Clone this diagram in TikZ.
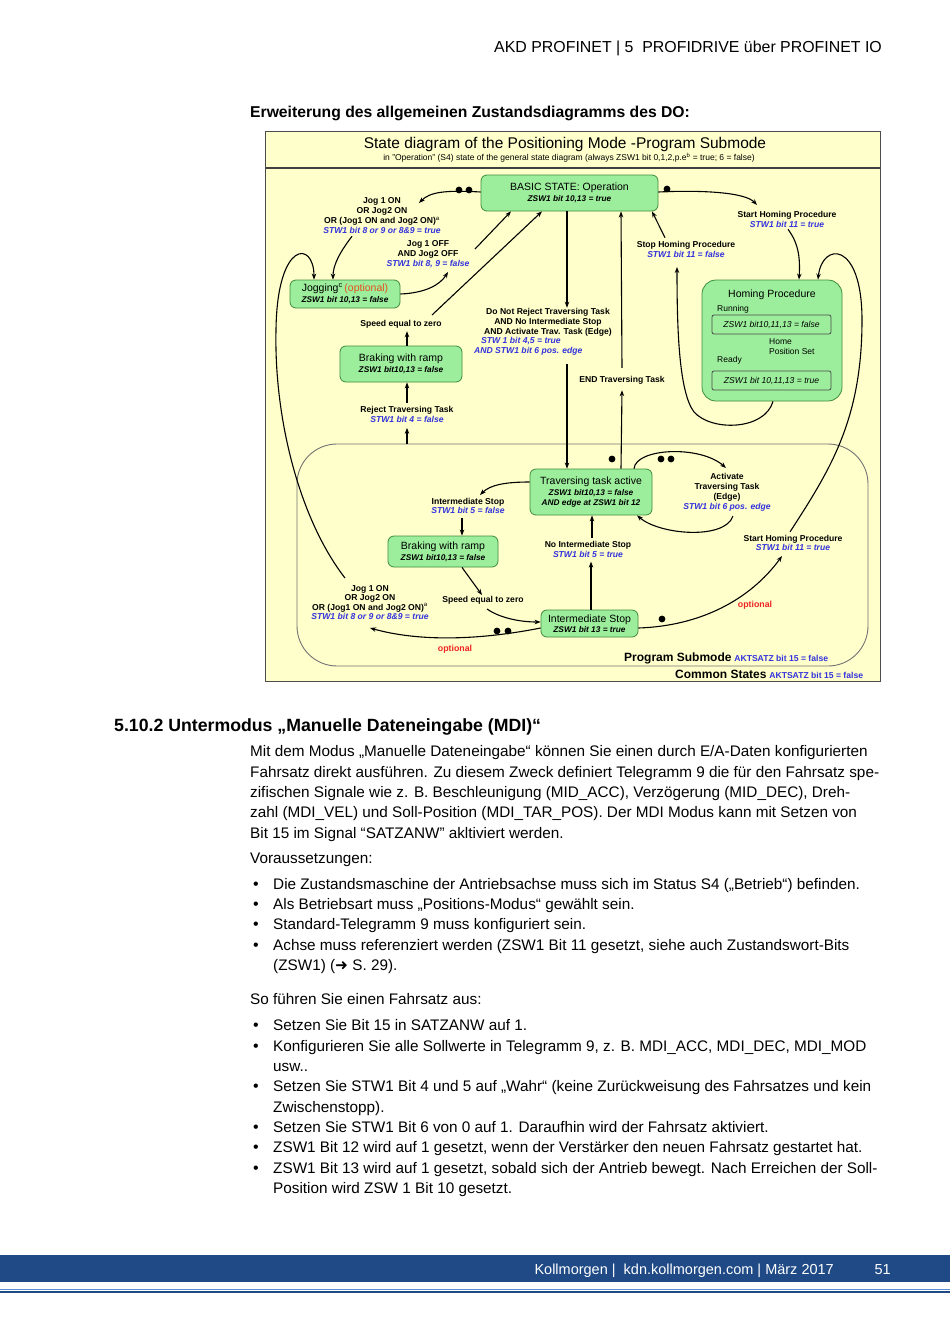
\documentclass[tikz,border=0pt]{standalone}
\usepackage{fontspec}
\setmainfont{Liberation Sans}
\newfontfamily\dejavu{DejaVu Sans}
\usetikzlibrary{arrows.meta,calc}
\definecolor{bgy}{HTML}{FFFFCC}
\definecolor{sgreen}{HTML}{9CEE9C}
\definecolor{sborder}{HTML}{3C8C3C}
\definecolor{lblue}{HTML}{3333DD}
\definecolor{optred}{HTML}{EE2222}
\definecolor{optorange}{HTML}{E8501E}
\definecolor{footblue}{HTML}{1F4A86}
\definecolor{footlight}{HTML}{5B8FD0}
\newcommand{\bl}[1]{{\color{lblue}\itshape #1}}
\begin{document}
\begin{tikzpicture}[x=1pt,y=-1pt,
  state/.style={draw=sborder,fill=sgreen,rounded corners=6pt,line width=0.8pt,align=center,inner sep=0pt},
  lbl/.style={font=\fontsize{8.6}{10}\selectfont\bfseries,align=center,inner sep=0pt},
  lbls/.style={font=\fontsize{8.6}{9.5}\selectfont\bfseries,align=center,inner sep=0pt},
  arr/.style={-{Stealth[length=6pt,width=4.5pt]},line width=1.1pt},
  body/.style={anchor=base west,inner sep=0pt,font=\fontsize{15.3}{18}\selectfont},
  bul/.style={anchor=base west,inner sep=0pt,font=\fontsize{16}{18}\selectfont},
  dot/.style={fill=black}]
\useasboundingbox (0,0) rectangle (950,1344);
\fill[white] (0,0) rectangle (950,1344);

% header
\node[anchor=base east,inner sep=0pt,font=\fontsize{15.9}{18}\selectfont] (hdr) at (882,52) {AKD PROFINET | 5\ \ PROFIDRIVE über PROFINET IO};
\node[anchor=base west,inner sep=0pt,font=\fontsize{15.7}{18}\selectfont\bfseries] (cap) at (250,117) {Erweiterung des allgemeinen Zustandsdiagramms des DO:};

% diagram frame
\fill[bgy] (265,131) rectangle (880,681);
\draw[line width=1.6pt,black!75] (265,168) -- (880,168);
\draw[line width=1pt,black!70] (265,131) rectangle (880,681);
\node[inner sep=0pt,font=\fontsize{15.5}{17}\selectfont] (title) at (565,144) {State diagram of the Positioning Mode -Program Submode};
\node[inner sep=0pt,font=\fontsize{8.5}{9}\selectfont] (subtitle) at (569,158) {in "Operation" (S4) state of the general state diagram (always ZSW1 bit 0,1,2,p.e$^{\mathrm b}$ = true; 6 = false)};

% program submode frame
\draw[black!55,line width=0.9pt,rounded corners=40pt] (297,444) rectangle (868,666);

% states
\node[state,minimum width=177pt,minimum height=36pt] (basic) at (569.5,193)
  {{\fontsize{10.5}{12}\selectfont BASIC STATE: Operation}\\[-1pt]{\fontsize{8.3}{9}\selectfont\bfseries\itshape ZSW1 bit 10,13 = true}};
\node[state,minimum width=110pt,minimum height=28pt] (jog) at (345,294)
  {{\fontsize{10.5}{12}\selectfont Jogging$^{\mathrm c}$\,{\color{optorange}(optional)}}\\[-1pt]{\fontsize{8.3}{9}\selectfont\bfseries\itshape ZSW1 bit 10,13 = false}};
\node[state,minimum width=122pt,minimum height=36pt] (brake1) at (401,364)
  {{\fontsize{10.5}{12}\selectfont Braking with ramp}\\[-1pt]{\fontsize{8.3}{9}\selectfont\bfseries\itshape ZSW1 bit10,13 = false}};
\node[state,rounded corners=14pt,minimum width=140pt,minimum height=121pt] (homing) at (772,340.5) {};
\node[inner sep=0pt,font=\fontsize{10.5}{12}\selectfont] (homt) at (772,294.5) {Homing Procedure};
\node[anchor=west,inner sep=0pt,font=\fontsize{8.5}{9}\selectfont] (running) at (717,309.5) {Running};
\node[draw=black!70,fill=sgreen,rounded corners=2pt,line width=0.8pt,minimum width=119pt,minimum height=19pt,inner sep=0pt,font=\fontsize{8.6}{9}\selectfont\itshape] (hrun) at (771.5,324.5) {ZSW1 bit10,11,13 = false};
\node[anchor=west,inner sep=0pt,font=\fontsize{8.5}{9}\selectfont] (ready) at (717,360.5) {Ready};
\node[anchor=west,inner sep=0pt,font=\fontsize{8.5}{9.8}\selectfont,align=left] (hps) at (769,347) {Home\\Position Set};
\node[draw=black!70,fill=sgreen,rounded corners=2pt,line width=0.8pt,minimum width=119pt,minimum height=19pt,inner sep=0pt,font=\fontsize{8.6}{9}\selectfont\itshape] (hready) at (771.5,380.5) {ZSW1 bit 10,11,13 = true};
\node[state,minimum width=122pt,minimum height=46pt] (trav) at (591,492)
  {{\fontsize{10.5}{12}\selectfont Traversing task active}\\[-1pt]{\fontsize{8.3}{10}\selectfont\bfseries\itshape ZSW1 bit10,13 = false}\\[-1.5pt]{\fontsize{8.3}{10}\selectfont\bfseries\itshape AND edge at ZSW1 bit 12}};
\node[state,minimum width=110pt,minimum height=31pt] (brake2) at (443,551.5)
  {{\fontsize{10.5}{12}\selectfont Braking with ramp}\\[-1pt]{\fontsize{8.3}{9}\selectfont\bfseries\itshape ZSW1 bit10,13 = false}};
\node[state,minimum width=97pt,minimum height=27pt] (inter) at (589.5,623.5)
  {{\fontsize{10.5}{12}\selectfont Intermediate Stop}\\[-2pt]{\fontsize{8.3}{9}\selectfont\bfseries\itshape ZSW1 bit 13 = true}};

% labels
\node[lbl] (jogA) at (382,216) {Jog 1 ON\\OR Jog2 ON\\OR (Jog1 ON and Jog2 ON)$^{\mathrm a}$\\\bl{STW1 bit 8 or 9 or 8\&9 = true}};
\node[lbl] (jogOff) at (428,254) {Jog 1 OFF\\AND Jog2 OFF\\\bl{STW1 bit 8, 9 = false}};
\node[lbl] (speed1) at (401,324) {Speed equal to zero};
\node[lbl] (reject) at (407,414.5) {Reject Traversing Task\\\bl{STW1 bit 4 = false}};
\node[lbl] (donotA) at (548,322) {Do Not Reject Traversing Task\\AND No Intermediate Stop\\AND Activate Trav. Task (Edge)};
\node[lbl,align=left,anchor=west] (donotB) at (474,346.5) {\hspace*{7pt}\bl{STW 1 bit 4,5 = true}\\\bl{AND STW1 bit 6 pos. edge}};
\node[lbl] (endT) at (622,380) {END Traversing Task};
\node[lbl] (startH1) at (787,219) {Start Homing Procedure\\\bl{STW1 bit 11 = true}};
\node[lbl] (stopH) at (686,249) {Stop Homing Procedure\\\bl{STW1 bit 11 = false}};
\node[lbls] (interS) at (468,506) {Intermediate Stop\\\bl{STW1 bit 5 = false}};
\node[lbl] (activ) at (727,492) {Activate\\Traversing Task\\(Edge)\\\bl{STW1 bit 6 pos. edge}};
\node[lbls] (noInter) at (588,549.5) {No Intermediate Stop\\\bl{STW1 bit 5 = true}};
\node[lbls] (startH2) at (793,543) {Start Homing Procedure\\\bl{STW1 bit 11 = true}};
\node[lbls] (jogB) at (370,602.5) {Jog 1 ON\\OR Jog2 ON\\OR (Jog1 ON and Jog2 ON)$^{\mathrm a}$\\\bl{STW1 bit 8 or 9 or 8\&9 = true}};
\node[lbls] (speed2) at (483,600) {Speed equal to zero};
\node[lbl,text=optred,font=\fontsize{8.8}{10}\selectfont\bfseries] (opt1) at (455,649) {optional};
\node[lbl,text=optred,font=\fontsize{8.8}{10}\selectfont\bfseries] (opt2) at (755,605) {optional};
\node[anchor=base west,inner sep=0pt] (progsub) at (624,661) {{\fontsize{12}{13}\selectfont\bfseries Program Submode} {\fontsize{8.6}{9}\selectfont\bfseries\color{lblue}AKTSATZ bit 15 = false}};
\node[anchor=base west,inner sep=0pt] (common) at (675,678) {{\fontsize{12}{13}\selectfont\bfseries Common States} {\fontsize{8.6}{9}\selectfont\bfseries\color{lblue}AKTSATZ bit 15 = false}};

% coordinates for free arrow ends
\coordinate (c1) at (419,203);
\coordinate (c2) at (757,205);
\coordinate (c3) at (677,267);
\coordinate (c4) at (448,272);
\coordinate (c5) at (475,249);
\coordinate (c6) at (432,315);
\coordinate (c7) at (480,495);
\coordinate (c8) at (726,468);
\coordinate (c9) at (733,516);
\coordinate (c10) at (370,628);
\coordinate (c11) at (782,556);
\coordinate (c12) at (345,578);
\coordinate (c13) at (487,609);
\coordinate (c14) at (482,595);

% dots
\fill[dot] (459,190) circle[radius=3.4pt];
\fill[dot] (469,190) circle[radius=3.4pt];
\fill[dot] (667,189) circle[radius=3.4pt];
\fill[dot] (612,459) circle[radius=3.4pt];
\fill[dot] (661,459) circle[radius=3.4pt];
\fill[dot] (671,459) circle[radius=3.4pt];
\fill[dot] (497,631) circle[radius=3.4pt];
\fill[dot] (508,631) circle[radius=3.4pt];
\fill[dot] (662,619) circle[radius=3.4pt];

% connectors
\draw[arr] ([yshift=1pt]basic.west) .. controls (445,190) and (430,192) .. (c1);
\draw[arr] ([yshift=1pt]basic.east) .. controls (700,190) and (745,192) .. (c2);
\draw[arr] ([xshift=1pt,yshift=-2pt]startH1.south) .. controls (800,245) and (800,262) .. ([xshift=27pt]homing.north);
\draw[arr] ([xshift=-3pt,yshift=3pt]startH2.north) .. controls (830,470) and (862,420) .. (862,320) .. controls (862,240) and (822,242) .. ([xshift=46pt]homing.north);
\draw[arr] ([xshift=1pt]homing.south) .. controls (765,430) and (712,432) .. (694,412) .. controls (679,392) and (677,330) .. (c3);
\draw[arr] ([xshift=-21pt,yshift=3pt]stopH.north) -- ([xshift=82.5pt]basic.south);
\draw[arr] ([xshift=-2.5pt]basic.south) -- ([xshift=19pt]donotA.north);
\draw[arr] (567,364) -- ([xshift=-24pt]trav.north);
\draw[arr] ([xshift=30pt]trav.north) -- ([yshift=-6pt]endT.south);
\draw[arr] ([yshift=8pt]endT.north) -- ([xshift=51.5pt]basic.south);
\draw[arr] ([xshift=-30pt,yshift=-2pt]jogA.south) .. controls (340,252) and (333,265) .. ([xshift=-12pt]jog.north);
\draw[arr] ([yshift=0pt]jog.east) .. controls (425,293) and (440,285) .. (c4);
\draw[arr] (c5) -- ([xshift=-58.5pt]basic.south);
\draw[arr] (c6) -- ([xshift=-27.5pt]basic.south);
\draw[arr] ([xshift=6pt]brake1.north) -- ([xshift=6pt,yshift=-3pt]speed1.south);
\draw[arr] ([yshift=3pt]reject.north) -- ([xshift=6pt]brake1.south);
\draw[arr] (407,444) -- ([yshift=-5pt]reject.south);
\draw[arr] ([yshift=10pt]trav.west) .. controls (505,482) and (490,485) .. (c7);
\draw[arr] ([xshift=-6pt,yshift=-4pt]interS.south) -- ([xshift=19pt]brake2.north);
\draw[arr] ([xshift=19pt]brake2.south) -- (c14);
\draw[arr] (c13) .. controls (500,618) and (520,622) .. ([yshift=1.5pt]inter.west);
\draw[arr] ([xshift=1.5pt]inter.north) -- ([xshift=3pt,yshift=-4pt]noInter.south);
\draw[arr] ([xshift=4pt,yshift=3pt]noInter.north) -- ([xshift=1pt]trav.south);
\draw[arr] ([xshift=43pt]trav.north) .. controls (636,448) and (700,445) .. (c8);
\draw[arr] (c9) .. controls (725,540) and (660,535) .. ([xshift=46pt]trav.south);
\draw[arr] ([yshift=-4.5pt]inter.west) .. controls (480,640) and (420,642) .. (c10);
\draw[arr] ([yshift=-4.5pt]inter.east) .. controls (700,626) and (750,600) .. (c11);
\draw[arr] (c12) .. controls (300,520) and (274,420) .. (276,330) .. controls (277,240) and (314,240) .. ([xshift=-31pt]jog.north);

% body text
\node[anchor=base west,inner sep=0pt,font=\fontsize{17.7}{20}\selectfont\bfseries] (sec) at (114,731) {5.10.2 Untermodus „Manuelle Dateneingabe (MDI)“};
\node[body] (p1) at (250,756) {Mit dem Modus „Manuelle Dateneingabe“ können Sie einen durch E/A-Daten konfigurierten};
\node[body] (p2) at (250,777) {Fahrsatz direkt ausführen. Zu diesem Zweck definiert Telegramm 9 die für den Fahrsatz spe-};
\node[body] (p3) at (250,797) {zifischen Signale wie z. B. Beschleunigung (MID\_ACC), Verzögerung (MID\_DEC), Dreh-};
\node[body] (p4) at (250,817) {zahl (MDI\_VEL) und Soll-Position (MDI\_TAR\_POS). Der MDI Modus kann mit Setzen von};
\node[body] (p5) at (250,838) {Bit 15 im Signal “SATZANW” akltiviert werden.};
\node[body] (vor) at (250,863) {Voraussetzungen:};
\foreach \y in {889,909,929,950,1030,1051,1091,1132,1152,1173}{
  \node[bul] at (253,\y) {•};
}
\node[body] (v1) at (273,889) {Die Zustandsmaschine der Antriebsachse muss sich im Status S4 („Betrieb“) befinden.};
\node[body] (v2) at (273,909) {Als Betriebsart muss „Positions-Modus“ gewählt sein.};
\node[body] (v3) at (273,929) {Standard-Telegramm 9 muss konfiguriert sein.};
\node[body] (v4) at (273,950) {Achse muss referenziert werden (ZSW1 Bit 11 gesetzt, siehe auch Zustandswort-Bits};
\node[body] (v5) at (273,970) {(ZSW1) ({\dejavu ➜} S. 29).};
\node[body] (so) at (250,1004) {So führen Sie einen Fahrsatz aus:};
\node[body] (s1) at (273,1030) {Setzen Sie Bit 15 in SATZANW auf 1.};
\node[body] (s2) at (273,1051) {Konfigurieren Sie alle Sollwerte in Telegramm 9, z. B. MDI\_ACC, MDI\_DEC, MDI\_MOD};
\node[body] (s2b) at (273,1071) {usw..};
\node[body] (s3) at (273,1091) {Setzen Sie STW1 Bit 4 und 5 auf „Wahr“ (keine Zurückweisung des Fahrsatzes und kein};
\node[body] (s3b) at (273,1112) {Zwischenstopp).};
\node[body] (s4) at (273,1132) {Setzen Sie STW1 Bit 6 von 0 auf 1. Daraufhin wird der Fahrsatz aktiviert.};
\node[body] (s5) at (273,1152) {ZSW1 Bit 12 wird auf 1 gesetzt, wenn der Verstärker den neuen Fahrsatz gestartet hat.};
\node[body] (s6) at (273,1173) {ZSW1 Bit 13 wird auf 1 gesetzt, sobald sich der Antrieb bewegt. Nach Erreichen der Soll-};
\node[body] (s6b) at (273,1193) {Position wird ZSW 1 Bit 10 gesetzt.};

% footer
\fill[footblue] (0,1255) rectangle (950,1282);
\draw[footlight,line width=1.2pt] (0,1289.5) -- (950,1289.5);
\draw[footblue,line width=1.8pt] (0,1291.8) -- (950,1291.8);
\node[anchor=base east,inner sep=0pt,text=white,font=\fontsize{14.5}{16}\selectfont] (foot) at (834,1274) {Kollmorgen |\ \ kdn.kollmorgen.com | März 2017};
\node[anchor=base east,inner sep=0pt,text=white,font=\fontsize{14.5}{16}\selectfont] (pg) at (891,1274) {51};
\end{tikzpicture}
\end{document}
